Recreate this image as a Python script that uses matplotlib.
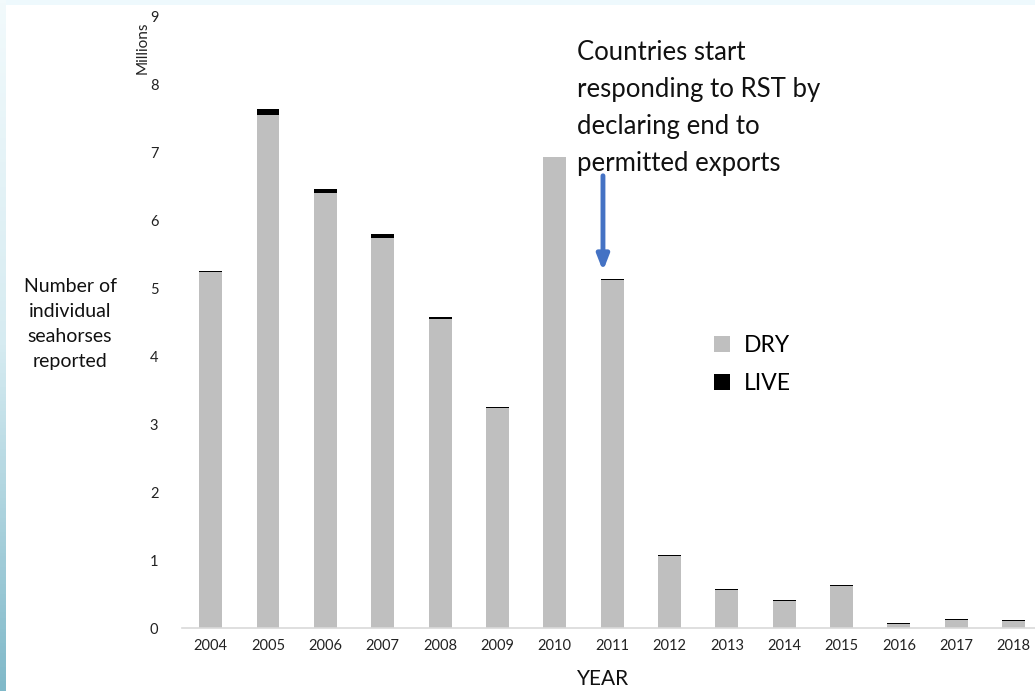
import numpy as np
import matplotlib
matplotlib.use("Agg")
import matplotlib.pyplot as plt
from matplotlib.colors import LinearSegmentedColormap

plt.rcParams["font.family"] = ["Lato", "DejaVu Sans"]

# ---------------------------------------------------------------- data (millions)
years = ["2004", "2005", "2006", "2007", "2008", "2009", "2010", "2011",
         "2012", "2013", "2014", "2015", "2016", "2017", "2018"]
dry = [5.23, 7.55, 6.40, 5.74, 4.54, 3.23, 6.92, 5.12,
       1.06, 0.56, 0.40, 0.62, 0.06, 0.12, 0.11]
live = [0.02, 0.08, 0.06, 0.05, 0.03, 0.02, 0.01, 0.01,
        0.01, 0.01, 0.01, 0.01, 0.01, 0.01, 0.01]
note = "Countries start\nresponding to RST by\ndeclaring end to\npermitted exports"
note_year = "2011"

W, H = 1035, 691
fig = plt.figure(figsize=(W / 100, H / 100), dpi=100)
fig.patch.set_facecolor("white")

# faint blue slide border (top strip + left gradient strip)
top = fig.add_axes([0, 1 - 5 / H, 1, 5 / H])
top.axis("off")
top.add_patch(plt.Rectangle((0, 0), 1, 1, color="#eef9fd", transform=top.transAxes))
left = fig.add_axes([0, 0, 6 / W, 1])
cm = LinearSegmentedColormap.from_list("edge", ["#f2fafc", "#d6ebf1", "#80b9c9"])
left.imshow(np.linspace(0, 1, 200).reshape(-1, 1), aspect="auto", cmap=cm,
            extent=(0, 1, 0, 1), origin="upper")
left.axis("off")

ax = fig.add_axes([182 / W, 63 / H, 1 - 182 / W, (628 - 16) / H])
x = np.arange(len(years))
ax.bar(x, dry, width=0.4, color="#bfbfbf", label="DRY", zorder=2)
ax.bar(x, live, width=0.4, bottom=dry, color="#000000", label="LIVE", zorder=2)

ax.set_xlim(-0.5, (W - 211) / 57.33)
ax.set_ylim(0, 9)
ax.set_xticks(x)
ax.set_xticklabels(years, fontsize=10.5, color="#222222")
ax.set_yticks(range(10))
ax.set_yticklabels([str(i) for i in range(10)], fontsize=10.5, color="#222222")
ax.tick_params(length=0, pad=8)
ax.tick_params(axis="y", pad=17)
for s in ("top", "right", "left"):
    ax.spines[s].set_visible(False)
ax.spines["bottom"].set_color("#d9d9d9")
ax.spines["bottom"].set_linewidth(1.2)
ax.patch.set_alpha(0)

fig.text(143 / W, 1 - 48 / H, "Millions", rotation=90, fontsize=11,
         ha="center", va="center", color="#222222")
fig.text(70 / W, 1 - 324 / H, "Number of\nindividual\nseahorses\nreported",
         fontsize=14, ha="center", va="center", linespacing=1.55, color="#111111")
fig.text(603 / W, 1 - 679 / H, "YEAR", fontsize=15, ha="center", va="center",
         color="#111111")

# annotation + arrow
i = years.index(note_year)
fig.text(577 / W, 1 - 108 / H, note, fontsize=18.5, ha="left", va="center",
         linespacing=1.6, color="#111111")
ax.annotate("", xy=(i - 0.16, dry[i] + live[i] + 0.12), xytext=(i - 0.16, 6.65),
            arrowprops=dict(arrowstyle="-|>,head_width=0.35,head_length=0.9",
                            color="#4472c4", lw=3.5, shrinkA=0, shrinkB=0))

ax.legend(loc="center left", bbox_to_anchor=(0.6, 0.43), frameon=False,
          fontsize=16.5, handlelength=0.7, handleheight=0.7, handletextpad=0.6,
          labelspacing=0.75)

fig.savefig("out.png", dpi=100)
